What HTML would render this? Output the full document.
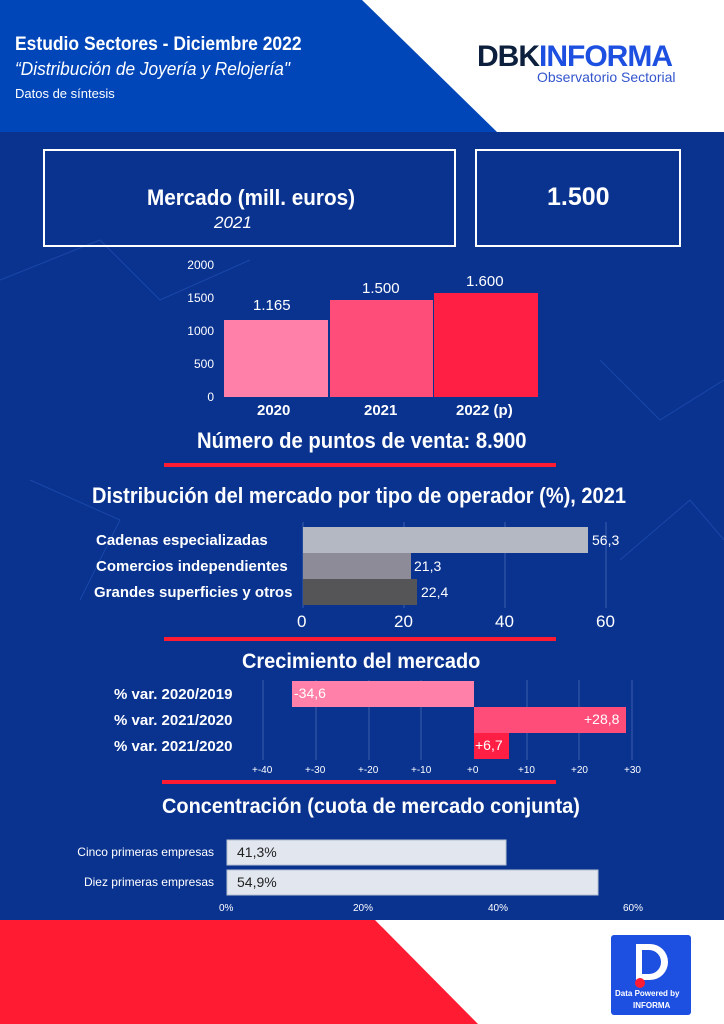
<!DOCTYPE html>
<html><head><meta charset="utf-8"><style>
body{margin:0;width:724px;height:1024px;position:relative;overflow:hidden;background:#fff;font-family:"Liberation Sans",sans-serif;color:#fff}
.a{position:absolute}
.t{position:absolute;white-space:nowrap}
.b{font-weight:bold}
.c{transform-origin:0 0}
</style></head><body>
<svg class="a" style="left:0;top:0" width="724" height="1024">
<rect x="0" y="0" width="724" height="132" fill="#fff"/>
<polygon points="0,0 362,0 497,132 0,132" fill="#0046b9"/>
<rect x="0" y="132" width="724" height="788" fill="#0a3390"/>
<g stroke="#2a5cc0" stroke-width="1" opacity="0.5" fill="none">
<polyline points="0,280 100,240 160,300 250,260"/><polyline points="600,360 660,420 724,380"/><polyline points="620,560 690,500 724,540"/><polyline points="30,480 120,520 80,600"/>
</g>
<polygon points="0,920 375,920 478,1024 0,1024" fill="#ff1c33"/>
<rect x="44" y="150" width="411" height="96" fill="none" stroke="#fff" stroke-width="2"/>
<rect x="476" y="150" width="204" height="96" fill="none" stroke="#fff" stroke-width="2"/>
<rect x="224" y="320" width="104" height="77" fill="#ff80a8"/>
<rect x="330" y="300" width="103" height="97" fill="#ff4d7a"/>
<rect x="434" y="293" width="104" height="104" fill="#ff1f44"/>
<rect x="164" y="463" width="392" height="4" fill="#ff1c33"/>
<g stroke="#3c5fae" stroke-width="1"><line x1="303" y1="522" x2="303" y2="608"/><line x1="404" y1="522" x2="404" y2="608"/><line x1="505" y1="522" x2="505" y2="608"/><line x1="606" y1="522" x2="606" y2="608"/></g>
<rect x="303" y="527" width="285" height="26" fill="#b4b8c2"/>
<rect x="303" y="553" width="108" height="26" fill="#8e8b98"/>
<rect x="303" y="579" width="114" height="26" fill="#555558"/>
<rect x="164" y="637" width="392" height="4" fill="#ff1c33"/>
<g stroke="#3c5fae" stroke-width="1"><line x1="263" y1="680" x2="263" y2="760"/><line x1="316" y1="680" x2="316" y2="760"/><line x1="369" y1="680" x2="369" y2="760"/><line x1="421" y1="680" x2="421" y2="760"/><line x1="527" y1="680" x2="527" y2="760"/><line x1="579" y1="680" x2="579" y2="760"/><line x1="632" y1="680" x2="632" y2="760"/></g>
<rect x="292" y="681" width="182" height="26" fill="#ff80a8"/>
<rect x="474" y="707" width="152" height="26" fill="#ff4d7a"/>
<rect x="474" y="733" width="35" height="26" fill="#ff1f44"/>
<rect x="162" y="780" width="394" height="4" fill="#ff1c33"/>
<rect x="227" y="840" width="279" height="25" fill="#e1e6ef" stroke="#b8c0d0"/>
<rect x="227" y="870" width="371" height="25" fill="#e1e6ef" stroke="#b8c0d0"/>
<rect x="611" y="935" width="80" height="80" rx="3" fill="#1d4fe0"/>
<path d="M636 944 h14 a18 18 0 0 1 0 36 h-14 z M642 950 v24 h7 a12 12 0 0 0 0 -24 z" fill="#fff" fill-rule="evenodd"/>
<circle cx="640" cy="983" r="5" fill="#ff1c33"/>
</svg>
<div class="t b c" style="left:15px;top:34px;font-size:19px;transform:scaleX(0.92)">Estudio Sectores - Diciembre 2022</div>
<div class="t c" style="left:15px;top:59px;font-size:18px;font-style:italic;transform:scaleX(0.96)">“Distribución de Joyería y Relojería"</div>
<div class="t" style="left:15px;top:86px;font-size:13px">Datos de síntesis</div>
<div class="t b" style="left:477px;top:40px;font-size:30px;color:#0c1f3c;letter-spacing:-1px">DBK<span style="color:#1d4fe0">INFORMA</span></div>
<div class="t" style="left:537px;top:69px;font-size:14px;color:#3355cc">Observatorio Sectorial</div>
<div class="t b c" style="left:147px;top:185px;font-size:22px;transform:scaleX(0.94)">Mercado (mill. euros)</div>
<div class="t" style="left:214px;top:213px;font-size:17px;font-style:italic">2021</div>
<div class="t b" style="left:547px;top:183px;font-size:25px">1.500</div>
<div class="t" style="right:510px;top:258px;font-size:12px">2000</div>
<div class="t" style="right:510px;top:291px;font-size:12px">1500</div>
<div class="t" style="right:510px;top:324px;font-size:12px">1000</div>
<div class="t" style="right:510px;top:357px;font-size:12px">500</div>
<div class="t" style="right:510px;top:390px;font-size:12px">0</div>
<div class="t" style="left:253px;top:297px;font-size:15px">1.165</div>
<div class="t" style="left:362px;top:280px;font-size:15px">1.500</div>
<div class="t" style="left:466px;top:273px;font-size:15px">1.600</div>
<div class="t b" style="left:257px;top:402px;font-size:15px">2020</div>
<div class="t b" style="left:364px;top:402px;font-size:15px">2021</div>
<div class="t b" style="left:456px;top:402px;font-size:15px">2022 (p)</div>
<div class="t b c" style="left:197px;top:428px;font-size:22px;transform:scaleX(0.92)">Número de puntos de venta: 8.900</div>
<div class="t b c" style="left:92px;top:483px;font-size:22px;transform:scaleX(0.91)">Distribución del mercado por tipo de operador (%), 2021</div>
<div class="t b" style="left:96px;top:532px;font-size:15px">Cadenas especializadas</div>
<div class="t b" style="left:96px;top:558px;font-size:15px">Comercios independientes</div>
<div class="t b" style="left:94px;top:584px;font-size:15px">Grandes superficies y otros</div>
<div class="t" style="left:592px;top:532px;font-size:14px">56,3</div>
<div class="t" style="left:414px;top:558px;font-size:14px">21,3</div>
<div class="t" style="left:421px;top:584px;font-size:14px">22,4</div>
<div class="t" style="left:297px;top:612px;font-size:17px">0</div>
<div class="t" style="left:394px;top:612px;font-size:17px">20</div>
<div class="t" style="left:495px;top:612px;font-size:17px">40</div>
<div class="t" style="left:596px;top:612px;font-size:17px">60</div>
<div class="t b c" style="left:242px;top:650px;font-size:21px;transform:scaleX(0.95)">Crecimiento del mercado</div>
<div class="t b" style="left:114px;top:686px;font-size:15px">% var. 2020/2019</div>
<div class="t b" style="left:114px;top:712px;font-size:15px">% var. 2021/2020</div>
<div class="t b" style="left:114px;top:738px;font-size:15px">% var. 2021/2020</div>
<div class="t" style="left:294px;top:685px;font-size:14px">-34,6</div>
<div class="t" style="left:584px;top:711px;font-size:14px">+28,8</div>
<div class="t" style="left:475px;top:737px;font-size:14px">+6,7</div>
<div class="t" style="left:252px;top:765px;font-size:10px">+-40</div><div class="t" style="left:305px;top:765px;font-size:10px">+-30</div><div class="t" style="left:358px;top:765px;font-size:10px">+-20</div><div class="t" style="left:411px;top:765px;font-size:10px">+-10</div><div class="t" style="left:467px;top:765px;font-size:10px">+0</div><div class="t" style="left:518px;top:765px;font-size:10px">+10</div><div class="t" style="left:571px;top:765px;font-size:10px">+20</div><div class="t" style="left:624px;top:765px;font-size:10px">+30</div>
<div class="t b c" style="left:162px;top:795px;font-size:21px;transform:scaleX(0.95)">Concentración (cuota de mercado conjunta)</div>
<div class="t" style="right:510px;top:845px;font-size:12px">Cinco primeras empresas</div>
<div class="t" style="right:510px;top:875px;font-size:12px">Diez primeras empresas</div>
<div class="t" style="left:237px;top:844px;font-size:14px;color:#222">41,3%</div>
<div class="t" style="left:237px;top:874px;font-size:14px;color:#222">54,9%</div>
<div class="t" style="left:219px;top:903px;font-size:10px">0%</div>
<div class="t" style="left:353px;top:903px;font-size:10px">20%</div>
<div class="t" style="left:488px;top:903px;font-size:10px">40%</div>
<div class="t" style="left:623px;top:903px;font-size:10px">60%</div>
<div class="t b" style="left:615px;top:989px;font-size:8px">Data Powered by</div>
<div class="t b" style="left:633px;top:1001px;font-size:8px">INFORMA</div>
</body></html>
